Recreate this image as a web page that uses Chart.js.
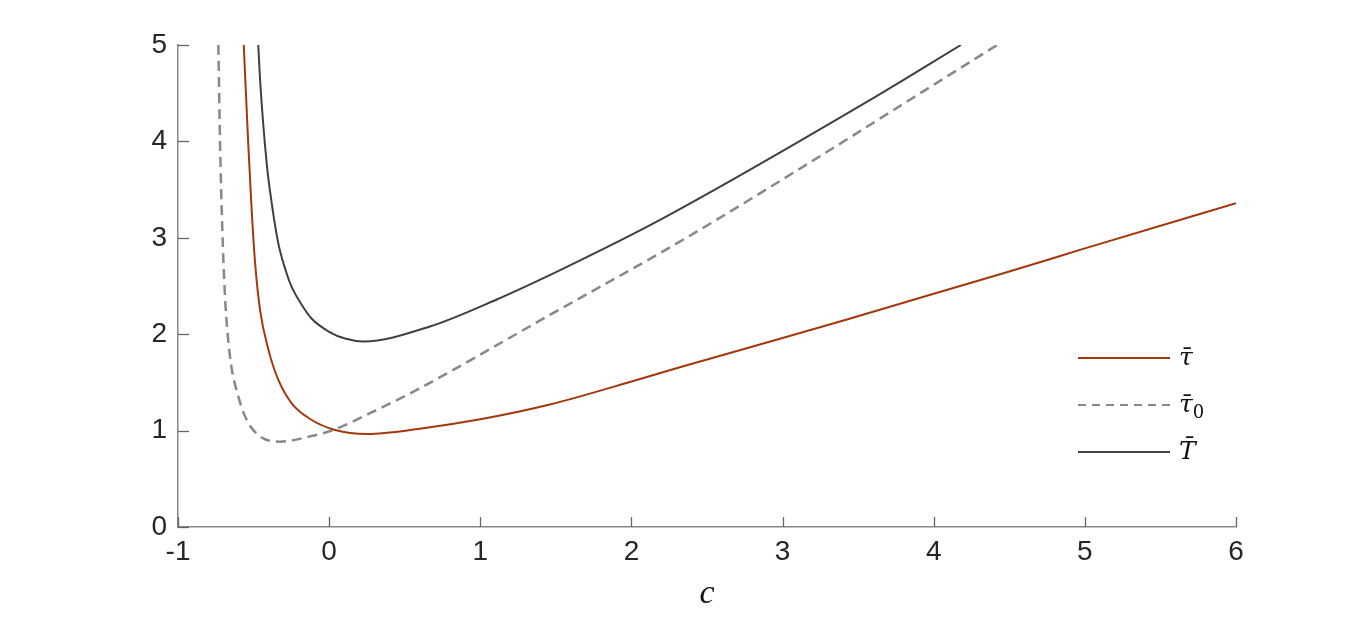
<!DOCTYPE html>
<html lang="en">
<head>
  <meta charset="UTF-8" />
  <title>tau bar vs c</title>
  <script src="https://cdn.jsdelivr.net/npm/chart.js"></script>
  <style>
    body {
      margin: 0;
      background: #ffffff;
    }
    .wrap {
      width: 1366px;
      height: 617px;
    }
  </style>
</head>
<body>
  <div class="wrap">
    <canvas id="cChart"></canvas>
  </div>

  <script>
    // values
    const tauC   = [-0.565, -0.536, -0.514, -0.491, -0.457, -0.402, -0.336, -0.248, -0.115, 0.04, 0.25, 0.6, 1.0, 1.46, 2.035, 2.32, 3.0, 3.42, 4.0, 4.5, 5.0, 6.0];
    const tauVal = [5.0, 4.0, 3.33, 2.76, 2.25, 1.84, 1.525, 1.283, 1.11, 1.006, 0.965, 1.02, 1.117, 1.27, 1.525, 1.657, 1.96, 2.15, 2.42, 2.65, 2.89, 3.36];

    const tau0C   = [-0.733, -0.722, -0.707, -0.689, -0.656, -0.6, -0.545, -0.457, -0.325, -0.127, 0.026, 0.27, 0.6, 1.46, 2.32, 3.2, 3.84, 4.42];
    const tau0Val = [5.0, 4.0, 3.1, 2.39, 1.77, 1.35, 1.11, 0.94, 0.885, 0.94, 1.006, 1.18, 1.44, 2.2, 2.96, 3.8, 4.43, 5.0];

    const bigTC   = [-0.469, -0.457, -0.413, -0.38, -0.336, -0.281, -0.248, -0.171, -0.115, 0.0, 0.105, 0.226, 0.667, 1.109, 1.549, 2.189, 3.58, 4.18];
    const bigTVal = [5.0, 4.64, 3.77, 3.36, 2.94, 2.63, 2.49, 2.28, 2.16, 2.025, 1.955, 1.925, 2.08, 2.36, 2.68, 3.185, 4.43, 5.0];

    const xTicks = [-1, 0, 1, 2, 3, 4, 5, 6];
    const yTicks = [0, 1, 2, 3, 4, 5];

    const ORANGE = "#a3380c";
    const GREY = "#888888";
    const DARK = "#404040";

    const pts = (xs, ys) => xs.map((x, i) => ({ x: x, y: ys[i] }));

    // inward tick marks + legend inside the plot
    const extras = {
      id: "extras",
      afterDraw(chart) {
        const ctx = chart.ctx;
        const xs = chart.scales.x;
        const ys = chart.scales.y;
        const area = chart.chartArea;
        ctx.save();
        ctx.strokeStyle = "#666666";
        ctx.lineWidth = 1.3;
        for (const t of xTicks) {
          const px = Math.round(xs.getPixelForValue(t)) + 0.5;
          ctx.beginPath();
          ctx.moveTo(px, area.bottom);
          ctx.lineTo(px, area.bottom - 10);
          ctx.stroke();
        }
        for (const t of yTicks) {
          const py = Math.round(ys.getPixelForValue(t)) + 0.5;
          ctx.beginPath();
          ctx.moveTo(area.left, py);
          ctx.lineTo(area.left + 11, py);
          ctx.stroke();
        }

        // legend
        const items = [
          { color: ORANGE, dash: [], width: 2, label: "\u03C4\u0304", sub: "" },
          { color: GREY, dash: [8, 6], width: 2.2, label: "\u03C4\u0304", sub: "0" },
          { color: DARK, dash: [], width: 2, label: "T\u0304", sub: "" }
        ];
        const lx = area.right - 158;
        let ly = area.top + 313;
        for (const it of items) {
          ctx.beginPath();
          ctx.setLineDash(it.dash);
          ctx.strokeStyle = it.color;
          ctx.lineWidth = it.width;
          ctx.moveTo(lx, ly);
          ctx.lineTo(lx + 92, ly);
          ctx.stroke();
          ctx.setLineDash([]);
          ctx.fillStyle = "#111111";
          ctx.font = "italic 25px 'DejaVu Serif'";
          ctx.textBaseline = "middle";
          ctx.textAlign = "left";
          ctx.fillText(it.label, lx + 101, ly);
          if (it.sub) {
            const w = ctx.measureText(it.label).width;
            ctx.font = "18px 'DejaVu Serif'";
            ctx.fillText(it.sub, lx + 101 + w, ly + 8);
          }
          ly += 47;
        }
        ctx.restore();
      }
    };

    new Chart(document.getElementById("cChart"), {
      type: "scatter",
      data: {
        datasets: [
          {
            label: "tau",
            data: pts(tauC, tauVal),
            showLine: true,
            borderColor: ORANGE,
            borderWidth: 2,
            pointRadius: 0,
            cubicInterpolationMode: "monotone"
          },
          {
            label: "tau0",
            data: pts(tau0C, tau0Val),
            showLine: true,
            borderColor: GREY,
            borderWidth: 2.5,
            borderDash: [10, 6],
            pointRadius: 0,
            cubicInterpolationMode: "monotone"
          },
          {
            label: "T",
            data: pts(bigTC, bigTVal),
            showLine: true,
            borderColor: DARK,
            borderWidth: 2,
            pointRadius: 0,
            cubicInterpolationMode: "monotone"
          }
        ]
      },
      options: {
        responsive: true,
        maintainAspectRatio: false,
        animation: false,
        layout: {
          padding: { top: 45, right: 130, left: 0, bottom: 0 }
        },
        plugins: {
          legend: { display: false },
          tooltip: { enabled: false }
        },
        scales: {
          x: {
            type: "linear",
            min: -1,
            max: 6,
            afterFit: (s) => { s.height = 90; },
            afterBuildTicks: (s) => { s.ticks = xTicks.map(v => ({ value: v })); },
            grid: { display: false, drawTicks: false, tickLength: 0 },
            border: { display: true, color: "#888888", width: 1.5 },
            ticks: {
              padding: 8,
              color: "#262626",
              font: { family: "'Liberation Sans', Arial, sans-serif", size: 28 }
            },
            title: {
              display: true,
              text: "c",
              color: "#111111",
              padding: { top: 0, bottom: 3 },
              font: { family: "'Liberation Serif', serif", style: "italic", size: 34 }
            }
          },
          y: {
            type: "linear",
            min: 0,
            max: 5,
            afterFit: (s) => { s.width = 178; },
            afterBuildTicks: (s) => { s.ticks = yTicks.map(v => ({ value: v })); },
            grid: { display: false, drawTicks: false, tickLength: 0 },
            border: { display: true, color: "#888888", width: 1.5 },
            ticks: {
              padding: 11,
              color: "#262626",
              font: { family: "'Liberation Sans', Arial, sans-serif", size: 28 }
            }
          }
        }
      },
      plugins: [extras]
    });
  </script>
</body>
</html>
